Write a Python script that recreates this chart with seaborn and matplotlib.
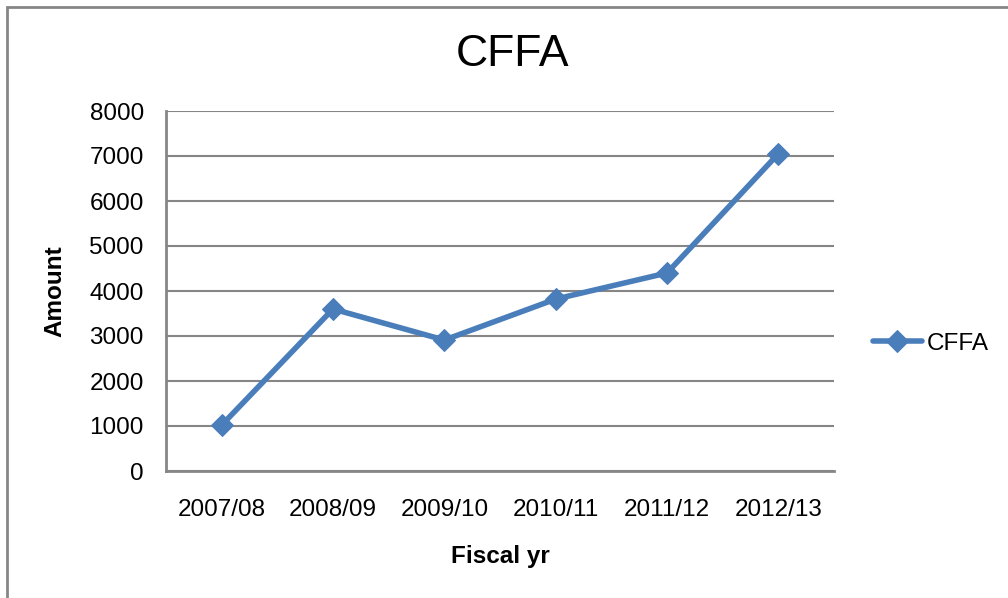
import pandas as pd
import matplotlib
matplotlib.use('Agg')
import matplotlib.pyplot as plt
from matplotlib.patches import Rectangle
import seaborn as sns

# Data
years = ['2007/08', '2008/09', '2009/10', '2010/11', '2011/12', '2012/13']
cffa = [1020, 3600, 2910, 3820, 4400, 7050]
y_ticks = [0, 1000, 2000, 3000, 4000, 5000, 6000, 7000, 8000]

df = pd.DataFrame({'Fiscal yr': years, 'Amount': cffa})

sns.set_style('white')
plt.rcParams['font.family'] = ['Liberation Sans', 'DejaVu Sans']
plt.rcParams['text.color'] = 'black'
plt.rcParams['axes.labelcolor'] = 'black'
plt.rcParams['xtick.labelcolor'] = 'black'
plt.rcParams['ytick.labelcolor'] = 'black'

line_col = '#4A7EBB'
grid_col = '#868686'

fig = plt.figure(figsize=(10.08, 5.98), dpi=100)
ax = fig.add_axes([166 / 1008, 1 - 471 / 598, (834 - 166) / 1008, (471 - 111) / 598])

sns.lineplot(data=df, x='Fiscal yr', y='Amount', ax=ax, color=line_col,
             linewidth=4, marker='D', markersize=11, markeredgecolor=line_col,
             label='CFFA', legend=False, sort=False)

ax.set_xlim(-0.5, 5.5)
ax.set_ylim(0, 8000)
ax.set_yticks(y_ticks)
ax.yaxis.grid(True, color=grid_col, linewidth=1.5)
ax.set_axisbelow(True)

for s in ['top', 'right']:
    ax.spines[s].set_visible(False)
for s in ['left', 'bottom']:
    ax.spines[s].set_color(grid_col)
    ax.spines[s].set_linewidth(2)

ax.tick_params(axis='y', length=6, width=1.5, color=grid_col, labelsize=17.5, pad=10)
ax.tick_params(axis='x', length=0, labelsize=17.5, pad=20)

ax.set_xlabel('Fiscal yr', fontsize=17.5, fontweight='bold')
ax.set_ylabel('Amount', fontsize=17.5, fontweight='bold')
ax.xaxis.set_label_coords(0.5, -(557 - 471) / 360, transform=ax.transAxes)
ax.yaxis.set_label_coords(-(166 - 55) / 668, 0.5, transform=ax.transAxes)
ax.xaxis.label.set_verticalalignment('center')
ax.yaxis.label.set_verticalalignment('center')

fig.text(513 / 1008, 1 - 55 / 598, 'CFFA', fontsize=32, ha='center', va='center')

handles, labels = ax.get_legend_handles_labels()
fig.legend(handles, labels, loc='center left', bbox_to_anchor=(873 / 1008, 1 - 344 / 598),
           frameon=False, fontsize=17.5, handlelength=2.0, handletextpad=0.2,
           borderaxespad=0, borderpad=0)

# outer chart border (only left and top edges visible in the crop)
fig.patches.append(Rectangle((7 / 1008, -0.1), 1.2, 1.1 - 7 / 598, transform=fig.transFigure,
                             fill=False, edgecolor=grid_col, linewidth=2))

fig.savefig('out.png', dpi=100)
